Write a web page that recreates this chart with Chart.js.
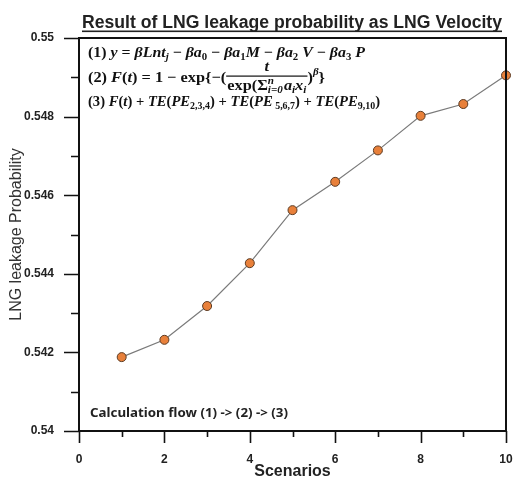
<!DOCTYPE html>
<html>
<head>
<meta charset="utf-8">
<script src="https://cdn.jsdelivr.net/npm/chart.js@4/dist/chart.umd.min.js"></script>
<style>
  html, body { margin: 0; padding: 0; background: #fff; }
  #wrap { width: 517px; height: 480px; }
</style>
</head>
<body>
<div id="wrap"><canvas id="myChart" width="517" height="480"></canvas></div>
<script>
// chart values
let scenarios = [1, 2, 3, 4, 5, 6, 7, 8, 9, 10];
let probability = [0.54188, 0.54232, 0.54318, 0.54427, 0.54562, 0.54634, 0.54714, 0.54802, 0.54832, 0.54905];
let xRange = [0, 10];
let yRange = [0.54, 0.55];

let chartTitle = 'Result of LNG leakage probability as LNG Velocity';
let xTitle = 'Scenarios';
let yTitle = 'LNG leakage Probability';
let flowNote = 'Calculation flow (1) -> (2) -> (3)';

// formula lines, each run is [text, flags]  i = italic, s = subscript, u = superscript
let formula1 = [['(1) ', ''], ['y', 'i'], [' = ', ''], ['βLnt', 'i'], ['j', 'is'], [' − ', ''], ['βa', 'i'], ['0', 's'],
  [' − ', ''], ['βa', 'i'], ['1', 's'], ['M', 'i'], [' − ', ''], ['βa', 'i'], ['2', 's'], [' V', 'i'],
  [' − ', ''], ['βa', 'i'], ['3', 's'], [' P', 'i']];
let formula2 = [['(2) ', ''], ['F', 'i'], ['(', ''], ['t', 'i'], [') = 1 − exp{−(', ''],
  {num: [['t', 'i']], den: [['exp(', ''], {sigma: true}, ['a', 'i'], ['i', 'is'], ['x', 'i'], ['i', 'is']]},
  [')', ''], ['β', 'iu'], ['}', '']];
let formula3 = [['(3) ', ''], ['F', 'i'], ['(', ''], ['t', 'i'], [') + ', ''], ['TE', 'i'], ['(', ''], ['PE', 'i'], ['2,3,4', 's'],
  [') + ', ''], ['TE', 'i'], ['(', ''], ['PE', 'i'], [' 5,6,7', 's'], [') + ', ''], ['TE', 'i'], ['(', ''], ['PE', 'i'], ['9,10', 's'], [')', '']];

const SERIF = '"Liberation Serif", "DejaVu Serif", serif';

function runFont(flags, size) {
  let s = (flags.includes('s') || flags.includes('u')) ? size * 0.68 : size;
  return (flags.includes('i') ? 'italic ' : '') + 'bold ' + s + 'px ' + SERIF;
}

// draws (or only measures) a list of runs, returns the width
function drawRuns(ctx, runs, x, y, size, draw) {
  let cx = x;
  for (let r of runs) {
    if (r.num) {
      let wn = drawRuns(ctx, r.num, 0, 0, size, false);
      let wd = drawRuns(ctx, r.den, 0, 0, size, false);
      let w = Math.max(wn, wd) + 2;
      if (draw) {
        drawRuns(ctx, r.num, cx + (w - wn) / 2, y - 11, size, true);
        drawRuns(ctx, r.den, cx + (w - wd) / 2, y + 8, size, true);
        ctx.fillRect(cx, y - 2.5, w, 1.2);
      }
      cx += w;
      continue;
    }
    if (r.sigma) {
      ctx.font = 'bold ' + size + 'px ' + SERIF;
      let ws = ctx.measureText('Σ').width;
      ctx.font = runFont('iu', size);
      let wl = Math.max(ctx.measureText('n').width, ctx.measureText('i=0').width);
      if (draw) {
        ctx.font = 'bold ' + size + 'px ' + SERIF;
        ctx.fillText('Σ', cx, y);
        ctx.font = runFont('iu', size);
        ctx.fillText('n', cx + ws, y - 5);
        ctx.fillText('i=0', cx + ws, y + 4);
      }
      cx += ws + wl + 1;
      continue;
    }
    let [text, flags] = r;
    ctx.font = runFont(flags, size);
    let dy = flags.includes('s') ? 4 : (flags.includes('u') ? -6 : 0);
    if (draw) ctx.fillText(text, cx, y + dy);
    cx += ctx.measureText(text).width;
  }
  return cx - x;
}

function drawFitted(ctx, runs, x, y, size, width) {
  let w = drawRuns(ctx, runs, 0, 0, size, false);
  ctx.save();
  ctx.translate(x, y);
  ctx.scale(width / w, 1);
  drawRuns(ctx, runs, 0, 0, size, true);
  ctx.restore();
}

function fitText(ctx, text, font, x, y, width) {
  ctx.font = font;
  let w = ctx.measureText(text).width;
  ctx.save();
  ctx.translate(x, y);
  ctx.scale(width / w, 1);
  ctx.fillText(text, 0, 0);
  ctx.restore();
}

// frame, tick marks, title and the formula notes
const decorations = {
  id: 'decorations',
  afterDraw(chart) {
    const ctx = chart.ctx;
    const a = chart.chartArea;
    const xs = chart.scales.x;
    const ys = chart.scales.y;
    ctx.save();
    ctx.strokeStyle = '#111';
    ctx.fillStyle = '#111';

    // ticks
    ctx.lineWidth = 1.6;
    ctx.beginPath();
    for (let v = xRange[0]; v <= xRange[1]; v++) {
      let px = Math.round(xs.getPixelForValue(v)) + 0.5;
      let len = v % 2 === 0 ? 12 : 6;
      ctx.moveTo(px, a.bottom);
      ctx.lineTo(px, a.bottom + len);
    }
    for (let k = 0; k <= 10; k++) {
      let v = yRange[0] + k * 0.001;
      let py = Math.round(ys.getPixelForValue(v)) + 0.5;
      let len = k % 2 === 0 ? 15 : 8;
      ctx.moveTo(a.left, py);
      ctx.lineTo(a.left - len, py);
    }
    ctx.stroke();

    // frame
    ctx.lineWidth = 2;
    ctx.strokeRect(a.left, a.top, a.right - a.left, a.bottom - a.top);

    // title, underlined
    ctx.fillStyle = '#222';
    ctx.textBaseline = 'alphabetic';
    fitText(ctx, chartTitle, 'bold 18px "Liberation Sans", Arial, sans-serif', 82, 28, 420);
    ctx.fillRect(82, 30.5, 420, 1.6);

    // formulas
    ctx.fillStyle = '#111';
    ctx.textBaseline = 'middle';
    drawFitted(ctx, formula1, 88, 53, 15, 277);
    drawFitted(ctx, formula2, 88, 78, 15, 237);
    drawFitted(ctx, formula3, 88, 102, 15, 292);

    // note at the bottom
    ctx.fillStyle = '#222';
    fitText(ctx, flowNote, 'bold 13px "Noto Sans", "Open Sans", sans-serif', 90, 413, 198);
    ctx.restore();
  }
};

function yLabel(v) {
  let k = Math.round((v - yRange[0]) * 1000);
  return k % 2 === 0 ? String(Number(v.toFixed(3))) : '';
}

const ctx = document.getElementById('myChart').getContext('2d');

const myChart = new Chart(ctx, {
  type: 'line',
  data: {
    datasets: [{
      label: yTitle,
      data: scenarios.map((s, i) => ({x: s, y: probability[i]})),
      borderColor: '#7a7a7a',
      borderWidth: 1.2,
      backgroundColor: '#E8803A',
      pointBackgroundColor: '#E8803A',
      pointBorderColor: '#5b3a22',
      pointBorderWidth: 1,
      pointRadius: 4.5,
      tension: 0,
      clip: false
    }]
  },
  options: {
    responsive: false,
    animation: false,
    devicePixelRatio: 1,
    layout: {
      autoPadding: false,
      padding: {top: 38, right: 11, left: 0, bottom: 0}
    },
    plugins: {
      legend: {display: false},
      tooltip: {enabled: false}
    },
    scales: {
      x: {
        type: 'linear',
        min: xRange[0],
        max: xRange[1],
        grid: {display: false},
        border: {display: false},
        ticks: {
          stepSize: 2,
          padding: 13,
          color: '#222',
          font: {family: '"Liberation Sans", Arial, sans-serif', size: 12, weight: 'bold'}
        },
        title: {
          display: true,
          text: xTitle,
          color: '#222',
          padding: 0,
          font: {family: '"Liberation Sans", Arial, sans-serif', size: 16, weight: 'bold', lineHeight: 1}
        },
        afterFit(scale) {
          scale.height = 49;
          scale.paddingLeft = 0;
          scale.paddingRight = 0;
        }
      },
      y: {
        type: 'linear',
        min: yRange[0],
        max: yRange[1],
        grid: {display: false},
        border: {display: false},
        ticks: {
          stepSize: 0.001,
          padding: 17,
          color: '#222',
          autoSkip: false,
          callback: yLabel,
          font: {family: '"Liberation Sans", Arial, sans-serif', size: 12, weight: 'bold'}
        },
        title: {
          display: true,
          text: yTitle,
          color: '#333',
          padding: {top: 7, bottom: 0},
          font: {family: '"Liberation Sans", Arial, sans-serif', size: 16}
        },
        afterFit(scale) {
          scale.width = 79;
          scale.paddingTop = 0;
          scale.paddingBottom = 0;
        }
      }
    }
  },
  plugins: [decorations]
});
</script>
</body>
</html>
